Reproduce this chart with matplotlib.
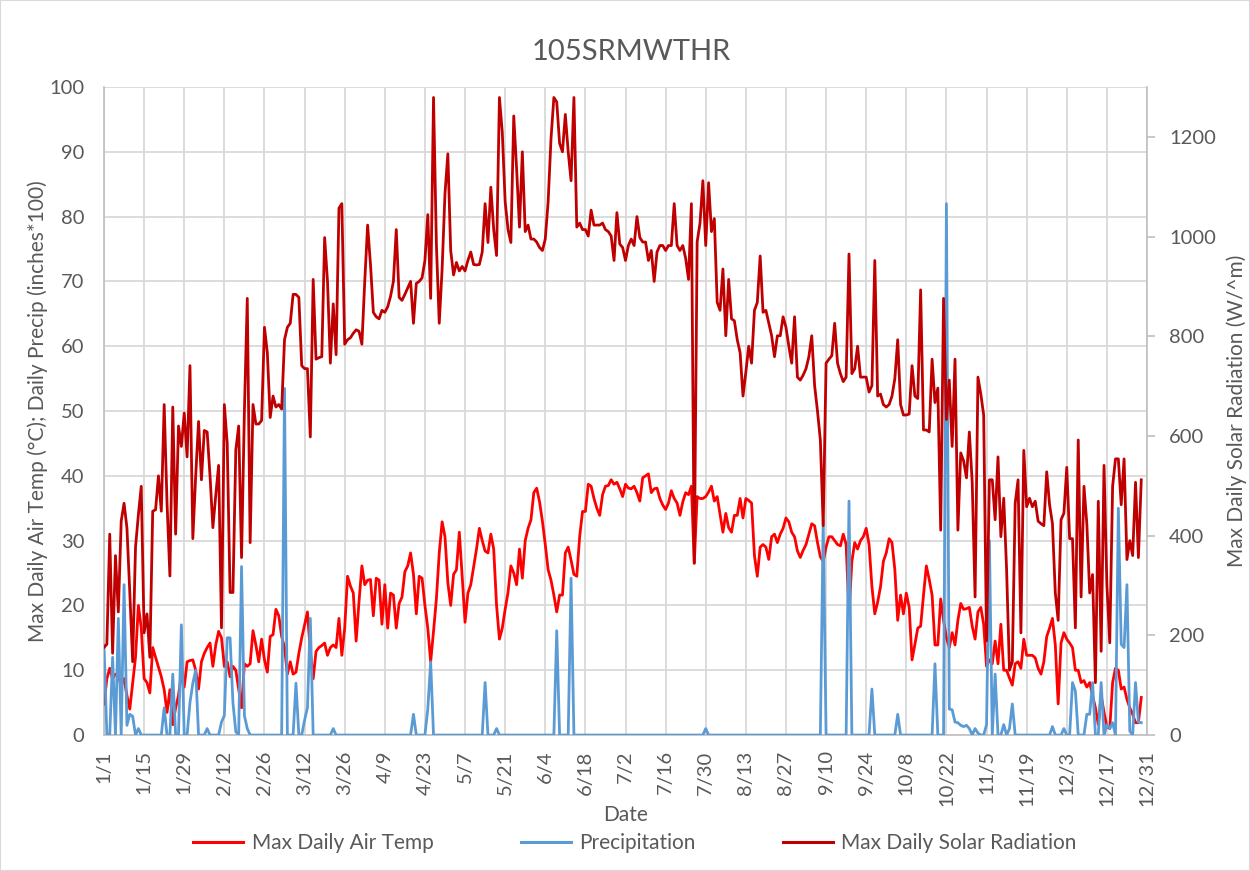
import matplotlib
matplotlib.use("Agg")
import matplotlib.pyplot as plt
import numpy as np
from matplotlib.lines import Line2D
from matplotlib.patches import Rectangle

title = "105SRMWTHR"
tick_labels = ["1/1", "1/15", "1/29", "2/12", "2/26", "3/12", "3/26", "4/9", "4/23",
               "5/7", "5/21", "6/4", "6/18", "7/2", "7/16", "7/30", "8/13", "8/27",
               "9/10", "9/24", "10/8", "10/22", "11/5", "11/19", "12/3", "12/17", "12/31"]
series_names = ["Max Daily Air Temp", "Precipitation", "Max Daily Solar Radiation"]

# Max daily air temperature (deg C), one value per day from 1/1
temp = [
    4.8, 8.7, 10.3, 8.7, 9.4, 9.0, 7.7, 8.7, 6.1, 4.0, 8.0, 12.0, 20.0, 16.5,
    8.7, 8.1, 6.5, 13.5, 12.0, 10.5, 9.0, 7.0, 3.5, 7.0, 1.6, 4.2, 6.1, 9.4,
    7.4, 11.3, 11.5, 11.6, 10.0, 7.1, 11.3, 12.6, 13.5, 14.2, 10.6, 13.9, 16.0, 15.0,
    10.6, 11.3, 9.0, 10.6, 10.0, 7.1, 4.2, 11.0, 10.6, 11.0, 16.1, 13.9, 11.3, 14.8,
    11.6, 9.7, 15.2, 15.5, 19.4, 18.4, 15.2, 13.5, 9.4, 11.3, 9.4, 9.7, 12.6, 15.0,
    17.0, 19.0, 12.9, 8.7, 12.9, 13.5, 13.8, 14.2, 12.3, 13.5, 13.9, 13.5, 18.0, 12.3,
    16.5, 24.5, 23.0, 21.9, 14.5, 20.6, 26.1, 23.2, 23.9, 24.0, 18.4, 24.2, 23.9, 17.1,
    23.2, 16.5, 21.9, 21.6, 16.5, 20.3, 21.3, 25.2, 26.1, 28.1, 24.8, 18.7, 24.5, 24.2,
    20.0, 16.5, 11.3, 16.0, 21.0, 28.1, 32.9, 30.6, 23.5, 20.0, 24.8, 25.5, 31.3, 24.5,
    17.4, 21.9, 23.2, 26.0, 28.7, 31.9, 30.0, 28.4, 28.1, 31.0, 28.7, 20.0, 14.8, 16.5,
    19.4, 22.0, 26.1, 25.0, 23.2, 28.7, 24.2, 30.0, 31.9, 33.2, 37.4, 38.1, 36.0, 33.0,
    29.4, 25.5, 23.9, 21.6, 19.0, 21.6, 21.6, 28.1, 29.0, 27.0, 24.8, 24.5, 30.6, 34.5,
    34.5, 38.7, 38.4, 36.5, 35.0, 33.9, 37.1, 38.4, 38.5, 39.4, 38.7, 39.0, 38.0, 36.8,
    38.7, 38.1, 38.0, 38.4, 37.4, 36.1, 39.7, 40.0, 40.3, 37.4, 38.0, 38.1, 36.5, 35.5,
    34.8, 35.8, 37.7, 36.5, 35.8, 33.9, 36.0, 37.4, 37.1, 38.4, 26.5, 36.8, 36.5, 36.5,
    36.8, 37.5, 38.4, 36.1, 36.8, 34.0, 31.3, 34.2, 32.0, 31.3, 33.9, 33.9, 36.5, 33.5,
    36.5, 36.2, 35.8, 27.7, 24.5, 29.0, 29.4, 29.0, 27.1, 30.6, 31.0, 29.7, 31.0, 31.9,
    33.5, 32.9, 31.3, 30.6, 28.4, 27.4, 28.5, 29.4, 31.0, 32.6, 32.3, 29.7, 27.5, 26.8,
    29.0, 30.6, 30.6, 30.0, 29.4, 29.2, 31.0, 29.4, 18.7, 26.8, 29.7, 28.7, 30.0, 30.6,
    31.9, 29.4, 22.9, 18.7, 20.5, 22.9, 26.8, 28.1, 30.3, 29.7, 25.5, 17.7, 21.6, 18.7,
    21.9, 19.7, 11.6, 14.0, 16.5, 16.8, 21.6, 26.1, 24.0, 21.6, 13.9, 13.9, 21.0, 17.7,
    15.0, 13.5, 15.8, 13.9, 17.7, 20.3, 19.4, 19.5, 19.7, 16.8, 14.8, 19.0, 19.7, 17.1,
    10.6, 11.6, 11.0, 14.5, 11.0, 17.1, 10.0, 10.0, 8.8, 7.7, 11.0, 11.3, 10.3, 14.8,
    12.3, 12.3, 12.3, 11.9, 10.3, 9.4, 11.3, 15.2, 16.5, 18.0, 13.9, 4.8, 14.2, 15.8,
    14.8, 14.2, 13.5, 10.0, 10.0, 8.1, 8.4, 7.4, 8.1, 6.1, 4.2, 1.6, 6.1, 3.5,
    1.3, 1.0, 8.1, 10.3, 10.0, 7.1, 7.4, 5.5, 4.2, 3.2, 1.9, 1.9, 5.8,
]

# Daily precipitation (inches*100)
precip = [
    13.9, 0, 0, 12.0, 0, 18.0, 0, 23.2, 1.5, 3.2, 2.9, 0, 1.0, 0,
    0, 0, 0, 0, 0, 0, 0, 4.2, 0, 0, 9.4, 0, 0, 17.0,
    0, 0, 5.0, 8.0, 10.0, 0, 0, 0, 1.0, 0, 0, 0, 0, 2.0,
    3.0, 15.0, 15.0, 5.0, 0.5, 0, 26.0, 3.0, 1.0, 0, 0, 0, 0, 0,
    0, 0, 0, 0, 0, 0, 0, 53.5, 0, 0, 0, 8.0, 0, 0,
    2.3, 4.2, 18.0, 0, 0, 0, 0, 0, 0, 0, 1.0, 0, 0, 0,
    0, 0, 0, 0, 0, 0, 0, 0, 0, 0, 0, 0, 0, 0,
    0, 0, 0, 0, 0, 0, 0, 0, 0, 0, 3.2, 0, 0, 0,
    0, 4.0, 11.3, 0, 0, 0, 0, 0, 0, 0, 0, 0, 0, 0,
    0, 0, 0, 0, 0, 0, 0, 8.1, 0, 0, 0, 1.0, 0, 0,
    0, 0, 0, 0, 0, 0, 0, 0, 0, 0, 0, 0, 0, 0,
    0, 0, 0, 0, 16.1, 0, 0, 0, 0, 24.2, 0, 0, 0, 0,
    0, 0, 0, 0, 0, 0, 0, 0, 0, 0, 0, 0, 0, 0,
    0, 0, 0, 0, 0, 0, 0, 0, 0, 0, 0, 0, 0, 0,
    0, 0, 0, 0, 0, 0, 0, 0, 0, 0, 0, 0, 0, 0,
    1.0, 0, 0, 0, 0, 0, 0, 0, 0, 0, 0, 0, 0, 0,
    0, 0, 0, 0, 0, 0, 0, 0, 0, 0, 0, 0, 0, 0,
    0, 0, 0, 0, 0, 0, 0, 0, 0, 0, 0, 0, 0, 33.2,
    0, 0, 0, 0, 0, 0, 0, 0, 36.1, 0, 0, 0, 0, 0,
    0, 0, 7.1, 0, 0, 0, 0, 0, 0, 0, 0, 3.2, 0, 0,
    0, 0, 0, 0, 0, 0, 0, 0, 0, 0, 11.0, 0, 0, 0,
    82.0, 4.0, 3.9, 2.0, 1.9, 1.5, 1.3, 1.5, 1.0, 0, 1.0, 0.3, 0, 0,
    1.6, 30.0, 0, 9.4, 0, 0, 1.6, 0, 1.0, 4.8, 0, 0, 0, 0,
    0, 0, 0, 0, 0, 0, 0, 0, 0, 1.3, 0, 0, 0, 1.0,
    0, 0, 8.1, 6.8, 0, 0, 0, 3.2, 3.2, 8.1, 0, 0, 8.1, 0,
    1.6, 1.0, 1.9, 0, 35.0, 14.0, 13.5, 23.2, 0.6, 0, 8.1, 2.0, 1.9,
]

# Max daily solar radiation (W/m^2)
solar = [
    176, 182, 403, 164, 360, 247, 429, 465, 416, 286, 147, 377, 442, 499,
    205, 243, 156, 449, 452, 520, 449, 663, 465, 319, 658, 403, 620, 579,
    646, 558, 741, 394, 520, 629, 512, 611, 608, 520, 416, 481, 541, 215,
    663, 585, 286, 286, 572, 620, 356, 650, 876, 386, 663, 624, 624, 631,
    818, 767, 637, 680, 658, 663, 654, 793, 818, 826, 884, 884, 878, 741,
    735, 735, 598, 914, 754, 757, 759, 998, 910, 746, 865, 763, 1057, 1066,
    784, 793, 797, 806, 813, 810, 784, 910, 1023, 944, 848, 839, 835, 852,
    848, 859, 880, 910, 1014, 878, 872, 884, 897, 910, 826, 906, 910, 917,
    952, 1044, 876, 1279, 985, 826, 935, 1086, 1166, 972, 923, 948, 931, 940,
    931, 952, 969, 944, 943, 944, 969, 1066, 988, 1099, 1014, 962, 1279, 1209,
    1070, 1014, 988, 1242, 1136, 1019, 1170, 1010, 1023, 995, 995, 989, 978, 972,
    995, 1070, 1196, 1279, 1270, 1187, 1170, 1245, 1170, 1112, 1279, 1019, 1027, 1014,
    1014, 1001, 1053, 1023, 1023, 1023, 1027, 1014, 1010, 1001, 952, 1048, 985, 978,
    952, 982, 995, 982, 1040, 998, 989, 989, 952, 972, 910, 969, 982, 982,
    972, 982, 982, 1066, 982, 972, 982, 956, 914, 1066, 345, 989, 1027, 1112,
    982, 1108, 1010, 1036, 868, 852, 935, 801, 914, 835, 831, 793, 767, 680,
    728, 780, 746, 852, 868, 961, 848, 852, 826, 801, 759, 801, 801, 839,
    818, 780, 746, 839, 718, 712, 722, 735, 759, 801, 701, 650, 592, 420,
    746, 754, 761, 826, 746, 725, 709, 718, 965, 725, 735, 780, 718, 718,
    718, 688, 701, 952, 680, 684, 663, 658, 663, 680, 715, 793, 663, 642,
    642, 644, 741, 680, 675, 893, 612, 612, 608, 754, 667, 696, 411, 876,
    633, 712, 579, 754, 411, 566, 550, 516, 608, 507, 277, 718, 684, 642,
    189, 512, 512, 432, 558, 398, 475, 332, 130, 147, 465, 512, 205, 571,
    458, 475, 458, 469, 429, 424, 420, 528, 462, 424, 285, 230, 432, 445,
    537, 394, 394, 215, 592, 277, 499, 424, 285, 322, 105, 469, 168, 541,
    302, 185, 499, 554, 554, 462, 554, 352, 390, 360, 507, 356, 512,
]

TEXT = "#595959"
GRID = "#D9D9D9"
AXIS = "#BFBFBF"
C_TEMP = "#FF0000"
C_PREC = "#5B9BD5"
C_SOL = "#C00000"

plt.rcParams["font.family"] = ["Lato", "DejaVu Sans"]

days = np.arange(len(temp))
tick_pos = np.arange(len(tick_labels)) * 14

fig = plt.figure(figsize=(12.5, 8.71), dpi=100)
ax = fig.add_axes([0.0832, 0.1561, 0.8344, 0.744])
ax2 = ax.twinx()

ax.plot(days, temp, color=C_TEMP, lw=2.0, solid_joinstyle="round", zorder=3)
ax.plot(np.arange(len(precip)), precip, color=C_PREC, lw=2.0, solid_joinstyle="round", zorder=3)
ax2.plot(np.arange(len(solar)), solar, color=C_SOL, lw=2.0, solid_joinstyle="round", zorder=3)

ax.set_xlim(0, 364)
ax.set_ylim(0, 100)
ax2.set_ylim(0, 1300)
ax.set_yticks(np.arange(0, 101, 10))
ax2.set_yticks(np.arange(0, 1201, 200))
ax.set_xticks(tick_pos)
ax.set_xticklabels(tick_labels, rotation=90)

ax.grid(True, color=GRID, lw=1.3, zorder=0)
ax.set_axisbelow(True)

for a in (ax, ax2):
    for s in a.spines.values():
        s.set_color(AXIS)
        s.set_linewidth(1.2)
    a.spines["top"].set_visible(False)
ax.spines["right"].set_visible(False)
ax2.spines["left"].set_visible(False)
ax2.spines["bottom"].set_visible(False)

ax.tick_params(axis="y", length=0, pad=14, labelsize=14.5, labelcolor=TEXT)
ax.tick_params(axis="x", length=0, pad=11, labelsize=14.5, labelcolor=TEXT)
ax2.tick_params(axis="y", length=6, width=1.2, color=AXIS, pad=10, labelsize=14.5, labelcolor=TEXT)

fig.text(0.5048, 0.940, title, ha="center", va="center", fontsize=21, color=TEXT)
fig.text(0.030, 0.528, "Max Daily Air Temp (°C); Daily Precip (inches*100)",
         rotation=90, ha="center", va="center", fontsize=15, color=TEXT)
fig.text(0.9895, 0.528, "Max Daily Solar Radiation (W/^m)",
         rotation=90, ha="center", va="center", fontsize=15, color=TEXT)
fig.text(0.5004, 0.064, "Date", ha="center", va="center", fontsize=15, color=TEXT)

handles = [Line2D([], [], color=c, lw=2.2) for c in (C_TEMP, C_PREC, C_SOL)]
leg = fig.legend(handles, series_names, loc="center", bbox_to_anchor=(0.508, 0.032),
                 ncol=3, frameon=False, fontsize=15, handlelength=2.4,
                 handletextpad=0.4, columnspacing=4.2)
for t in leg.get_texts():
    t.set_color(TEXT)

fig.patches.append(Rectangle((0, 0), 1, 1, transform=fig.transFigure, fill=False,
                             edgecolor=GRID, lw=1.5))

fig.savefig("out.png", dpi=100)
print(len(temp), len(precip), len(solar))
